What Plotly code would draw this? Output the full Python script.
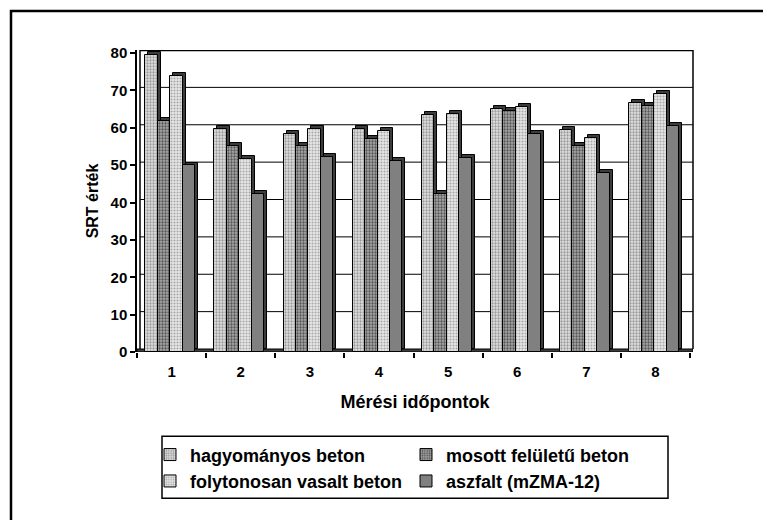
import plotly.graph_objects as go

categories = ["1", "2", "3", "4", "5", "6", "7", "8"]
series_names = ["hagyományos beton", "mosott felületű beton",
                "folytonosan vasalt beton", "aszfalt (mZMA-12)"]
hagyomanyos = [79.4, 59.7, 58.3, 59.7, 63.3, 64.9, 59.5, 66.5]
mosott = [61.7, 55.1, 55.2, 57.0, 42.3, 64.5, 55.2, 65.7]
folytonosan = [73.8, 51.7, 59.7, 59.0, 63.6, 65.5, 57.3, 69.1]
aszfalt = [49.9, 42.3, 52.2, 51.0, 52.0, 58.4, 47.8, 60.6]
y_ticks = [0, 10, 20, 30, 40, 50, 60, 70, 80]

values = [hagyomanyos, mosott, folytonosan, aszfalt]

W, H = 763, 520
L, R, T = 137, 693, 50
B = 352.5
pw, ph = R - L, B - T
depth_x = 3 / 69.1       # 3D depth in category units
depth_y = 0.8            # 3D depth in value units
yr = [0, 80 + depth_y]
xr = [-0.5, 7.5 + depth_x]

bar_w = 0.18
offsets = [-0.38, -0.20, -0.02, 0.16]
patterns = [
    dict(shape=".", fgcolor="#9a9a9a", bgcolor="#e2e2e2", size=3, solidity=0.45, fillmode="replace"),
    dict(shape=".", fgcolor="#555555", bgcolor="#a8a8a8", size=3, solidity=0.45, fillmode="replace"),
    dict(shape=".", fgcolor="#a8a8a8", bgcolor="#e8e8e8", size=3, solidity=0.4, fillmode="replace"),
    None,
]
colors = ["#cccccc", "#8c8c8c", "#d4d4d4", "#808080"]

font = "Liberation Sans, Arial, sans-serif"
fig = go.Figure()

# 3D side/top faces
for i, vals in enumerate(values):
    fig.add_trace(go.Bar(
        x=categories, y=vals, base=depth_y, width=bar_w,
        offset=offsets[i] + depth_x,
        marker=dict(color="#3c3c3c", line=dict(color="black", width=1)),
        showlegend=False, hoverinfo="skip"))

# front faces
for i, vals in enumerate(values):
    m = dict(color=colors[i], line=dict(color="black", width=1))
    if patterns[i] is not None:
        m["pattern"] = patterns[i]
    fig.add_trace(go.Bar(
        x=categories, y=vals, width=bar_w, offset=offsets[i],
        name=series_names[i], marker=m))

def px_x(p):
    return (p - L) / pw

def px_y(p):
    return (B - p) / ph

shapes = []
# floor slab
shapes.append(dict(type="rect", xref="x", yref="y", x0=xr[0], x1=xr[1],
                   y0=0, y1=depth_y, fillcolor="#3c3c3c",
                   line=dict(color="black", width=1), layer="below"))
# back-wall gridlines
for k in y_ticks[1:-1]:
    shapes.append(dict(type="line", xref="paper", yref="y",
                       x0=px_x(L + 3), x1=1, y0=k + depth_y, y1=k + depth_y,
                       line=dict(color="black", width=1), layer="below"))
# back-wall edges
shapes.append(dict(type="line", xref="paper", yref="y", x0=px_x(L + 3), x1=1,
                   y0=80 + depth_y, y1=80 + depth_y,
                   line=dict(color="black", width=2.5), layer="below"))
shapes.append(dict(type="line", xref="paper", yref="y", x0=1, x1=1,
                   y0=depth_y, y1=80 + depth_y,
                   line=dict(color="black", width=1.5), layer="below"))
shapes.append(dict(type="line", xref="paper", yref="y", x0=px_x(L + 3), x1=px_x(L + 3),
                   y0=depth_y, y1=80 + depth_y,
                   line=dict(color="black", width=1.5), layer="below"))
# outer chart border
shapes.append(dict(type="rect", xref="paper", yref="paper",
                   x0=px_x(11), x1=px_x(820), y0=px_y(11), y1=px_y(560),
                   line=dict(color="black", width=2.5)))
# legend box
shapes.append(dict(type="rect", xref="paper", yref="paper",
                   x0=px_x(162), x1=px_x(668), y0=px_y(437), y1=px_y(499),
                   line=dict(color="black", width=1.5)))

fig.update_layout(
    width=W, height=H,
    margin=dict(l=L, r=W - R, t=T, b=H - B, pad=0),
    paper_bgcolor="white", plot_bgcolor="white",
    barmode="overlay",
    font=dict(family=font, color="black", size=15),
    shapes=shapes,
    xaxis=dict(type="category", range=xr, showgrid=False, zeroline=False,
               showline=False, ticks="outside", ticklen=5, tickwidth=1.5,
               tickcolor="black", tickson="boundaries", ticklabelstandoff=9,
               tickfont=dict(family=font, size=15, color="black", weight="bold"),
               title=dict(text="Mérési időpontok", standoff=16,
                          font=dict(family=font, size=18, color="black", weight="bold"))),
    yaxis=dict(range=yr, tickvals=y_ticks, showgrid=False, zeroline=False,
               showline=True, linecolor="black", linewidth=1.5,
               ticks="outside", ticklen=5, tickwidth=1.5, tickcolor="black",
               tickfont=dict(family=font, size=15, color="black", weight="bold"),
               title=dict(text="SRT érték", standoff=8,
                          font=dict(family=font, size=16, color="black", weight="bold"))),
    legend=dict(orientation="h", x=px_x(150), y=px_y(437), xanchor="left", yanchor="top",
                borderwidth=0, bgcolor="rgba(0,0,0,0)",
                entrywidth=211, entrywidthmode="pixels", itemwidth=30,
                font=dict(family=font, size=18, color="black", weight="bold"),
                tracegroupgap=0),
    bargap=0,
)

fig.write_html("out.html")
